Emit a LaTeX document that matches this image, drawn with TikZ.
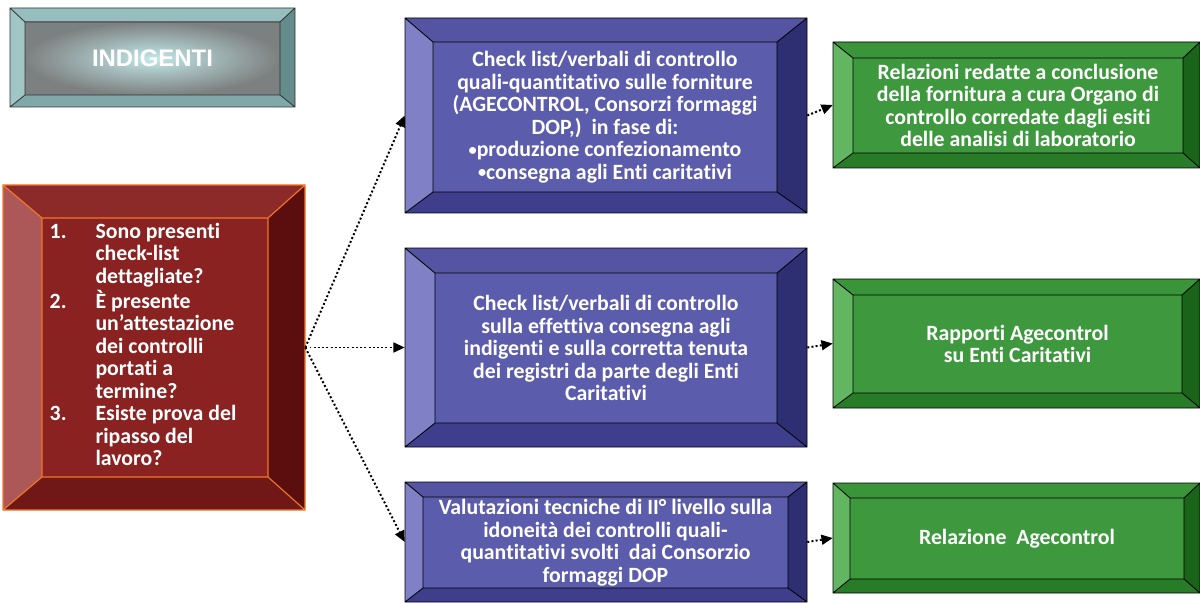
\documentclass[tikz,border=0pt]{standalone}
\usepackage{fontspec}
\setmainfont{Carlito}[Ligatures=NoCommon]
\newfontfamily\arialfont{Liberation Sans}
\usetikzlibrary{arrows.meta,calc,fit}

% bevel colours: T top, L left, R right, B bottom, M middle
\definecolor{ttlT}{RGB}{150,190,190}
\definecolor{ttlL}{RGB}{160,198,198}
\definecolor{ttlR}{RGB}{100,140,140}
\definecolor{ttlB}{RGB}{128,168,168}
\definecolor{ttlM}{RGB}{125,128,128}
\definecolor{ttlC}{RGB}{195,232,232}
\definecolor{qstT}{RGB}{140,42,42}
\definecolor{qstL}{RGB}{172,88,88}
\definecolor{qstR}{RGB}{92,14,14}
\definecolor{qstB}{RGB}{112,24,24}
\definecolor{qstM}{RGB}{138,34,34}
\definecolor{qstE}{RGB}{240,120,40}
\definecolor{chkT}{RGB}{84,84,162}
\definecolor{chkL}{RGB}{128,128,198}
\definecolor{chkR}{RGB}{46,46,114}
\definecolor{chkB}{RGB}{62,62,140}
\definecolor{chkM}{RGB}{92,92,172}
\definecolor{repT}{RGB}{58,148,58}
\definecolor{repL}{RGB}{98,182,98}
\definecolor{repR}{RGB}{26,100,26}
\definecolor{repB}{RGB}{40,124,40}
\definecolor{repM}{RGB}{62,152,62}

\newcommand{\dotitem}{\raisebox{0.12ex}{\scalebox{0.75}{•}}}

\tikzset{
  boxtext/.style={text=white, inner sep=0pt,
    font=\fontsize{15.5}{16}\selectfont\bfseries},
  link/.style={line width=1.4pt, dash pattern=on 1.4pt off 1.6pt,
    -{Triangle[length=8pt,width=7pt]}},
  ttledge/.style={draw=black!80, line width=0.6pt},
  qstedge/.style={draw=qstE, line width=0.8pt},
  chkedge/.style={draw=black, line width=0.6pt},
  repedge/.style={draw=black, line width=0.6pt},
  ttlmid/.style={inner color=ttlC, outer color=ttlM},
  qstmid/.style={fill=qstM},
  chkmid/.style={fill=chkM},
  repmid/.style={fill=repM},
}

\begin{document}
\begin{tikzpicture}[x=0.025cm,y=-0.025cm]%
% \bevbox{name}{scheme}{outer nw}{outer se}{inner nw}{inner se}{text options}{text}
\def\bevbox#1#2#3#4#5#6#7#8{%
  \coordinate (#1o) at (#3); \coordinate (#1p) at (#4);
  \coordinate (#1i) at (#5); \coordinate (#1j) at (#6);
  \fill[#2T] (#1o) -- (#1o -| #1p) -- (#1i -| #1j) -- (#1i) -- cycle;
  \fill[#2R] (#1o -| #1p) -- (#1p) -- (#1j) -- (#1i -| #1j) -- cycle;
  \fill[#2B] (#1p) -- (#1o |- #1p) -- (#1i |- #1j) -- (#1j) -- cycle;
  \fill[#2L] (#1o |- #1p) -- (#1o) -- (#1i) -- (#1i |- #1j) -- cycle;
  \path[#2mid] (#1i) rectangle (#1j);
  \draw[#2edge] (#1o) rectangle (#1p) (#1i) rectangle (#1j)
    (#1o) -- (#1i) (#1o -| #1p) -- (#1i -| #1j)
    (#1p) -- (#1j) (#1o |- #1p) -- (#1i |- #1j);
  \node[fit=(#1o)(#1p), inner sep=0pt] (#1) {};
  \node[boxtext, #7] at ($(#1i)!.5!(#1j)$) {#8};
}
\useasboundingbox (0,0) rectangle (1200,603);

\bevbox{ttl}{ttl}{10,8}{295,107}{25,22}{280,95}
  {font=\arialfont\fontsize{17}{20}\selectfont\bfseries}{INDIGENTI}

\bevbox{qst}{qst}{3,185}{305,510}{42,218}{268,477}{xshift=-8.5pt}
  {\begin{tabular}{@{}p{32.6pt}@{}l@{}}
   1. & Sono presenti\\ & check-list\\ & dettagliate?\\
   2. & È presente\\ & un’attestazione\\ & dei controlli\\ & portati a\\ & termine?\\
   3. & Esiste prova del\\ & ripasso del\\ & lavoro?
   \end{tabular}}

\bevbox{chkA}{chk}{405,18}{807,213}{433,42}{777,192}{align=center}
  {Check list/verbali di controllo\\ quali-quantitativo sulle forniture\\
   (AGECONTROL, Consorzi formaggi\\ DOP,)\ \ in fase di:\\
   \dotitem produzione confezionamento\\ \dotitem consegna agli Enti caritativi}
\bevbox{chkB}{chk}{405,248}{807,447}{435,273}{777,423}{align=center}
  {Check list/verbali di controllo\\ sulla effettiva consegna agli\\
   indigenti e sulla corretta tenuta\\ dei registri da parte degli Enti\\ Caritativi}
\bevbox{chkC}{chk}{405,482}{807,602}{423,497}{788,588}{align=center}
  {Valutazioni tecniche di II° livello sulla\\ idoneità dei controlli quali-\\
   quantitativi svolti\ \ dai Consorzio\\ formaggi DOP}

\bevbox{repA}{rep}{833,42}{1200,168}{853,58}{1183,153}{align=center}
  {Relazioni redatte a conclusione\\ della fornitura a cura Organo di\\
   controllo corredate dagli esiti\\ delle analisi di laboratorio}
\bevbox{repB}{rep}{833,279}{1200,408}{853,295}{1182,393}{align=center}
  {Rapporti Agecontrol\\ su Enti Caritativi}
\bevbox{repC}{rep}{833,483}{1200,593}{850,498}{1184,579}{align=center}
  {Relazione\ \ Agecontrol}

\draw[link] (qst.east) -- (chkA.west);
\draw[link] (qst.east) -- (chkB.west);
\draw[link] (qst.east) -- (chkC.west);
\draw[link] (chkA.east) -- (repA.west);
\draw[link] (chkB.east) -- (repB.west);
\draw[link] (chkC.east) -- (repC.west);
\end{tikzpicture}
\end{document}
